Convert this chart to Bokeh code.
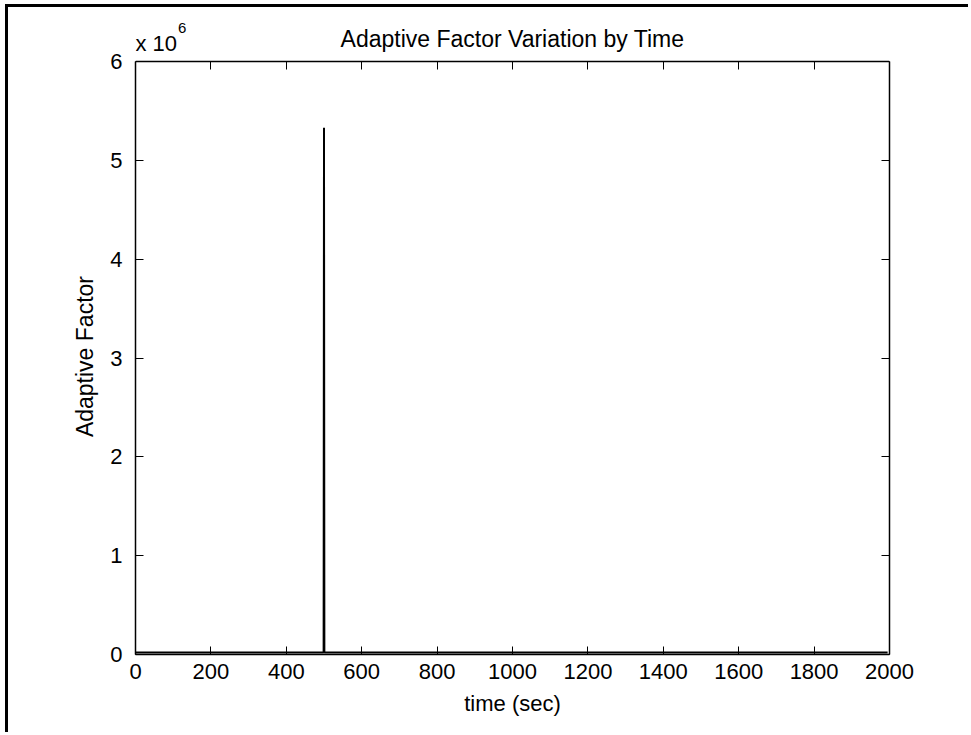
from bokeh.plotting import figure
from bokeh.models import Range1d, LinearAxis, Label, FixedTicker, CustomJSTickFormatter
from bokeh.embed import file_html
from bokeh.resources import INLINE

# ---- data ----
time_sec = [0, 499, 500, 501, 1995]
adaptive_factor = [2.0e4, 2.0e4, 5.33e6, 2.0e4, 2.0e4]

x_ticks = [0, 200, 400, 600, 800, 1000, 1200, 1400, 1600, 1800, 2000]
y_ticks = [0, 1e6, 2e6, 3e6, 4e6, 5e6, 6e6]

title_text = "Adaptive Factor Variation by Time"
x_label = "time (sec)"
y_label = "Adaptive Factor"
exp_base = "x 10"
exp_power = "6"

FONT = "Liberation Sans"
FS = "22px"
W, H = 963, 728
Y_MAX = 6e6
Y_TOP = 6.547e6   # frame extends above the box so the header texts can sit inside it

p = figure(width=W, height=H, output_backend="svg", toolbar_location=None,
           title_location=None,
           x_range=Range1d(0, 2000), y_range=Range1d(0, Y_TOP),
           min_border_left=127, min_border_right=82, min_border_top=0, min_border_bottom=81)
p.xgrid.visible = False
p.ygrid.visible = False
p.outline_line_color = None

p.line(time_sec, adaptive_factor, line_color="black", line_width=2)

def style_axis(ax, labels=True):
    ax.major_tick_in = 8
    ax.major_tick_out = 0
    ax.minor_tick_in = 0
    ax.minor_tick_out = 0
    ax.axis_line_color = "black"
    ax.axis_line_width = 1.5
    ax.major_tick_line_color = "black"
    ax.major_tick_line_width = 1
    ax.major_label_text_font = FONT
    ax.major_label_text_font_size = FS
    ax.major_label_text_color = "black"
    ax.axis_label_text_font = FONT
    ax.axis_label_text_font_size = FS
    ax.axis_label_text_font_style = "normal"
    ax.axis_label_text_color = "black"
    if not labels:
        ax.major_label_text_font_size = "0px"
        ax.major_label_text_alpha = 0

xa = p.xaxis[0]
xa.ticker = FixedTicker(ticks=x_ticks)
xa.axis_label = x_label
style_axis(xa)
xa.major_label_standoff = 9
xa.axis_label_standoff = 9

ya = p.yaxis[0]
ya.ticker = FixedTicker(ticks=y_ticks)
ya.bounds = (0, Y_MAX)
ya.formatter = CustomJSTickFormatter(code="return (tick/1e6).toFixed(0);")
# trailing no-break spaces keep the label centred on the 0..6e6 box rather than the taller frame
ya.axis_label = y_label + "\u00a0" * 8
style_axis(ya)
ya.axis_label_text_font_size = "23px"
ya.major_label_standoff = 13
ya.axis_label_standoff = 9

# top edge of the box: an axis pinned at y = 6e6 with ticks pointing down
top = LinearAxis(ticker=FixedTicker(ticks=x_ticks), fixed_location=Y_MAX)
style_axis(top, labels=False)
top.major_tick_in = 0
top.major_tick_out = 8
p.add_layout(top, "below")

right = LinearAxis(ticker=FixedTicker(ticks=y_ticks), bounds=(0, Y_MAX))
style_axis(right, labels=False)
p.add_layout(right, "right")

# header texts
p.add_layout(Label(x=1000, y=6.233e6, text=title_text, text_font=FONT, text_font_size="23px",
                   text_color="black", text_baseline="middle", text_align="center"))
p.add_layout(Label(x=0, y=6.18e6, text=exp_base, text_font=FONT, text_font_size=FS,
                   text_color="black", text_baseline="alphabetic", text_align="left"))
p.add_layout(Label(x=113, y=6.34e6, text=exp_power, text_font=FONT, text_font_size="15px",
                   text_color="black", text_baseline="alphabetic", text_align="left"))

p.styles = {"border-left": "3px solid black", "border-top": "3px solid black",
            "margin-left": "5px", "margin-top": "4px"}

open("out.html", "w").write(file_html(p, INLINE))
